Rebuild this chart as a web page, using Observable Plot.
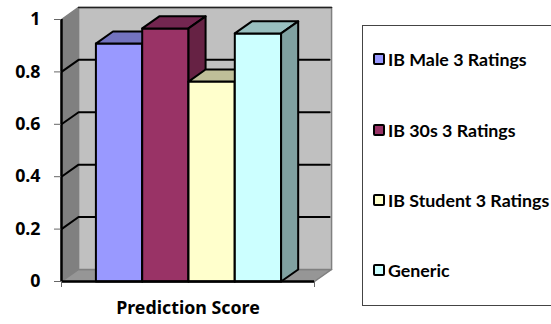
<!DOCTYPE html>
<html>
<head>
<meta charset="utf-8">
<script src="https://cdn.jsdelivr.net/npm/d3@7"></script>
<script src="https://cdn.jsdelivr.net/npm/@observablehq/plot@0.6"></script>
<style>
  html, body { margin: 0; padding: 0; background: #fff; overflow: hidden; }
  #chart { position: relative; width: 551px; height: 324px; font-family: Lato, sans-serif; }
  #chart svg { position: absolute; left: 0; top: 0; }
  #legend { position: absolute; left: 362px; top: 25px; width: 200px; height: 281px; box-sizing: border-box;
            border: 1px solid #444; background: #fff; }
  .entry { position: absolute; left: 10px; display: flex; align-items: center; font-weight: 700; font-size: 17.8px;
           line-height: 18px; white-space: nowrap; color: #000; }
  .swatch { width: 8px; height: 8px; border: 2.5px solid #000; border-radius: 2px; margin-right: 3px; }
</style>
</head>
<body>
<div id="chart"><div id="legend"></div></div>
<script>
const series = ["IB Male 3 Ratings", "IB 30s 3 Ratings", "IB Student 3 Ratings", "Generic"];
const scores = [0.908, 0.966, 0.763, 0.947];
const frontColors = ["#9999ff", "#993366", "#ffffcc", "#ccffff"];
const topColors = ["#7373bf", "#732650", "#bfbf99", "#99bfbf"];
const sideColors = ["#5c5c99", "#662244", "#99997a", "#80a1a1"];
const yTicks = [0, 0.2, 0.4, 0.6, 0.8, 1];
const axisTitle = "Prediction Score";

// Oblique projection: depth shifts a point right and up, in data units.
const depthX = 0.0675;
const depthY = 0.046;
const gapX = 0.136;
const barWidth = 0.183;

// A closed polygon as rows for Plot.line, one id per face.
let faceId = 0;
const polygon = (corners, fill) => {
  const id = faceId++;
  return [...corners, corners[0]].map(([x, y]) => ({x, y, id, fill}));
};

const walls = [
  ...polygon([[0, 0], [depthX, depthY], [depthX, 1 + depthY], [0, 1]], "#808080"),
  ...polygon([[0, 0], [1, 0], [1 + depthX, depthY], [depthX, depthY]], "#969696"),
  ...polygon([[depthX, depthY], [1 + depthX, depthY], [1 + depthX, 1 + depthY], [depthX, 1 + depthY]], "#c0c0c0")
];

const bars = scores.flatMap((v, i) => {
  const x0 = gapX + i * barWidth;
  const x1 = x0 + barWidth;
  return [
    ...polygon([[x0, 0], [x1, 0], [x1, v], [x0, v]], frontColors[i]),
    ...polygon([[x0, v], [x1, v], [x1 + depthX, v + depthY], [x0 + depthX, v + depthY]], topColors[i]),
    ...polygon([[x1, 0], [x1 + depthX, depthY], [x1 + depthX, v + depthY], [x1, v]], sideColors[i])
  ];
});

// Gridlines run across the side wall and then along the back wall.
const grid = yTicks.slice(1, -1).flatMap((t, i) => [
  {x: 0, y: t, id: i}, {x: depthX, y: t + depthY, id: i}, {x: 1 + depthX - 0.008, y: t + depthY, id: i}
]);

const plot = Plot.plot({
  width: 551,
  height: 324,
  marginLeft: 61,
  marginRight: 237,
  marginTop: 19,
  marginBottom: 43,
  x: {domain: [0, 1]},
  y: {domain: [0, 1]},
  style: {background: "transparent", overflow: "visible"},
  marks: [
    Plot.line(walls, {x: "x", y: "y", z: "id", fill: "fill", stroke: "#808080", strokeWidth: 1.5}),
    Plot.line(grid, {x: "x", y: "y", z: "id", stroke: "#000", strokeWidth: 2}),
    Plot.line([{x: depthX, y: 1 + depthY}, {x: 1 + depthX, y: 1 + depthY}], {x: "x", y: "y", stroke: "#222", strokeWidth: 1.5}),
    Plot.line(bars, {x: "x", y: "y", z: "id", fill: "fill", stroke: "#000", strokeWidth: 2, strokeLinejoin: "round"}),
    Plot.ruleX([0], {y1: 0, y2: 1, stroke: "#000", strokeWidth: 2.5}),
    Plot.ruleY([0], {x1: 0, x2: 1, stroke: "#000", strokeWidth: 2.5}),
    Plot.axisY({
      ticks: yTicks, tickSize: 7, tickPadding: 14, tickFormat: d => String(d), label: null,
      stroke: "#666", fontSize: 17.8, fontWeight: 700, fill: "#000"
    }),
    Plot.axisX({
      ticks: [0, 1], tickSize: 6, tickFormat: () => "", label: axisTitle, labelAnchor: "center",
      labelArrow: "none", labelOffset: 32, stroke: "#666", fontSize: 17.8, fontWeight: 700, fill: "#000"
    })
  ]
});

const chart = document.getElementById("chart");
chart.insertBefore(plot, chart.firstChild);

// Legend rows sit beside the plot in a box that runs off the right edge.
const legend = document.getElementById("legend");
const rowTops = [24, 95, 165, 235];
series.forEach((name, i) => {
  const row = document.createElement("div");
  row.className = "entry";
  row.style.top = rowTops[i] + "px";
  const swatch = document.createElement("div");
  swatch.className = "swatch";
  swatch.style.background = frontColors[i];
  row.append(swatch, name);
  legend.append(row);
});
</script>
</body>
</html>
